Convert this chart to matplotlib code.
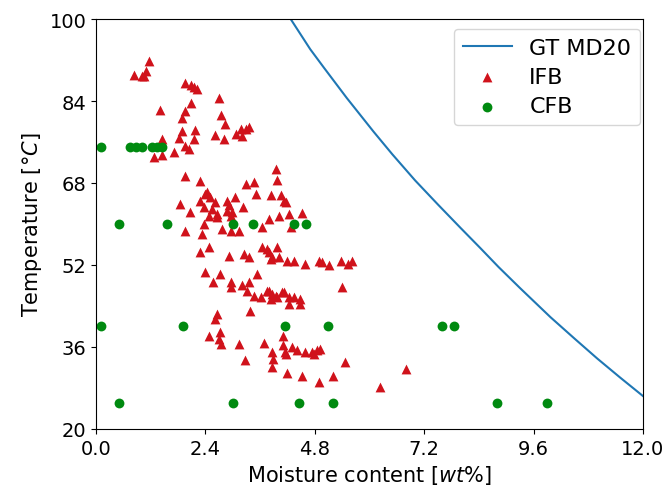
import numpy as np
import matplotlib.pyplot as plt

# GT MD20 curve
gt_x = [4.27, 4.7, 5.0, 5.5, 6.09, 6.5, 7.0, 7.5, 8.0, 8.43, 8.83, 9.3,
        9.97, 10.5, 11.0, 11.5, 12.0]
gt_y = [100, 94.1, 90.5, 84.6, 78.0, 73.6, 68.5, 63.8, 59.2, 55.3, 51.6, 47.5,
        41.8, 37.6, 33.7, 30.0, 26.4]

# IFB samples
ifb_x = [1.16, 0.83, 1.09, 1.05, 1.00, 1.96, 2.09, 2.22, 2.15,
         2.69, 2.09, 1.41, 1.95, 1.88, 2.75, 2.84, 1.89, 2.18, 1.82, 2.14,
         2.61, 2.80, 3.06, 3.17, 3.28, 3.21, 3.35, 1.44, 1.95, 2.05, 1.71,
         1.45, 1.27,
         1.96, 2.29, 1.85, 2.07, 2.40, 2.51, 2.62, 2.29, 2.36, 2.55, 2.47,
         2.66, 2.44, 2.88, 2.91, 3.04, 2.88, 2.99, 2.95, 3.23, 3.28, 3.46,
         3.50, 3.94, 3.97, 3.83, 4.05, 4.16, 4.12, 3.64, 3.79, 4.01, 4.23,
         4.52, 2.66,
         1.96, 2.36, 2.33, 2.77, 2.95, 3.13, 2.47, 2.29, 2.91, 3.24, 3.35,
         3.64, 3.75, 3.97, 3.86, 4.01, 3.79, 3.83, 4.19, 4.35, 4.59, 4.89,
         4.96, 5.11, 5.38, 5.52, 5.62, 2.40, 2.73, 3.54, 4.27,
         2.56, 2.95, 2.95, 3.21, 3.35, 3.32, 3.46, 3.61, 3.79, 3.94, 4.08,
         3.83, 3.75, 3.86, 3.97, 4.12, 4.23, 4.34, 4.48, 4.23, 4.48, 5.40,
         3.37, 2.66, 2.62,
         2.73, 2.47, 2.70, 2.75, 3.13, 3.26, 3.68, 3.86, 3.89, 3.86, 4.10,
         4.10, 4.14, 4.19, 4.30, 4.41, 4.59, 4.74, 4.85, 4.92, 4.78, 4.16,
         4.52, 4.90, 5.20, 5.46, 6.22, 6.80]
ifb_y = [91.9, 89.1, 89.9, 88.9, 88.8, 87.5, 87.1, 86.3, 86.8,
         84.5, 83.7, 82.2, 82.1, 80.7, 81.3, 79.5, 78.2, 78.3, 76.7, 76.5,
         77.4, 76.6, 77.6, 78.5, 78.5, 77.2, 78.9, 76.6, 75.2, 74.6, 74.1,
         73.5, 73.0,
         69.4, 68.3, 63.9, 62.4, 65.9, 65.2, 64.2, 64.5, 63.3, 62.9, 61.6,
         62.0, 66.2, 64.5, 63.6, 65.2, 62.6, 62.3, 61.6, 63.3, 67.8, 68.1,
         65.9, 70.7, 68.5, 65.7, 65.7, 64.2, 64.5, 59.4, 61.0, 61.6, 62.0,
         62.2, 61.3,
         58.7, 60.0, 58.0, 59.0, 58.7, 58.7, 55.5, 54.5, 53.8, 54.1, 53.5,
         55.5, 55.1, 55.5, 53.5, 53.5, 54.5, 53.2, 52.8, 52.8, 52.2, 52.8,
         52.5, 51.9, 52.8, 52.2, 52.8, 50.6, 50.2, 50.2, 59.4,
         48.6, 48.6, 47.6, 48.0, 48.6, 47.0, 46.0, 45.7, 47.0, 46.0, 46.7,
         45.4, 47.0, 46.3, 45.7, 46.7, 45.7, 45.7, 45.4, 44.4, 44.4, 47.6,
         43.1, 42.4, 41.5,
         38.9, 38.2, 37.6, 36.6, 36.6, 33.4, 36.8, 35.0, 33.7, 32.0, 38.2,
         36.3, 35.0, 30.9, 35.9, 35.3, 35.0, 35.0, 35.3, 35.5, 34.6, 34.6,
         30.3, 29.1, 30.3, 33.1, 28.1, 31.7]

# CFB samples
cfb_x = [0.1, 0.75, 0.87, 1.0, 1.22, 1.33, 1.44,
         0.5, 1.55, 3.0, 3.45, 4.35, 4.6,
         0.1, 1.9, 4.15, 5.1, 7.6, 7.85,
         0.5, 3.0, 4.45, 5.2, 8.8, 9.9]
cfb_y = [75, 75, 75, 75, 75, 75, 75,
         60, 60, 60, 60, 60, 60,
         40, 40, 40, 40, 40, 40,
         25, 25, 25, 25, 25, 25]

plt.rcParams['font.size'] = 14

fig = plt.figure(figsize=(6.67, 4.89), dpi=100)
ax = fig.add_axes([0.144, 0.121, 0.82, 0.838])

ax.plot(gt_x, gt_y, color='#1f77b4', linewidth=1.5, label='GT MD20')
ax.scatter(ifb_x, ifb_y, marker='^', s=50, color='#d0121b', linewidths=0, label='IFB')
ax.scatter(cfb_x, cfb_y, marker='o', s=50, color='#008a10', linewidths=0, label='CFB')

ax.set_xlim(0, 12)
ax.set_ylim(20, 100)
ax.set_xticks(np.arange(0, 12.01, 2.4))
ax.set_yticks(np.arange(20, 101, 16))
ax.set_xticklabels(['0.0', '2.4', '4.8', '7.2', '9.6', '12.0'])
ax.set_xlabel('Moisture content [$wt\\%$]', fontsize=15)
ax.set_ylabel('Temperature [$\\degree C$]', fontsize=15)
ax.legend(loc='upper right', bbox_to_anchor=(0.995, 0.976), borderaxespad=0,
          fontsize=16, labelspacing=0.42, borderpad=0.4, handlelength=2.2)

plt.savefig('out.png', dpi=100)
